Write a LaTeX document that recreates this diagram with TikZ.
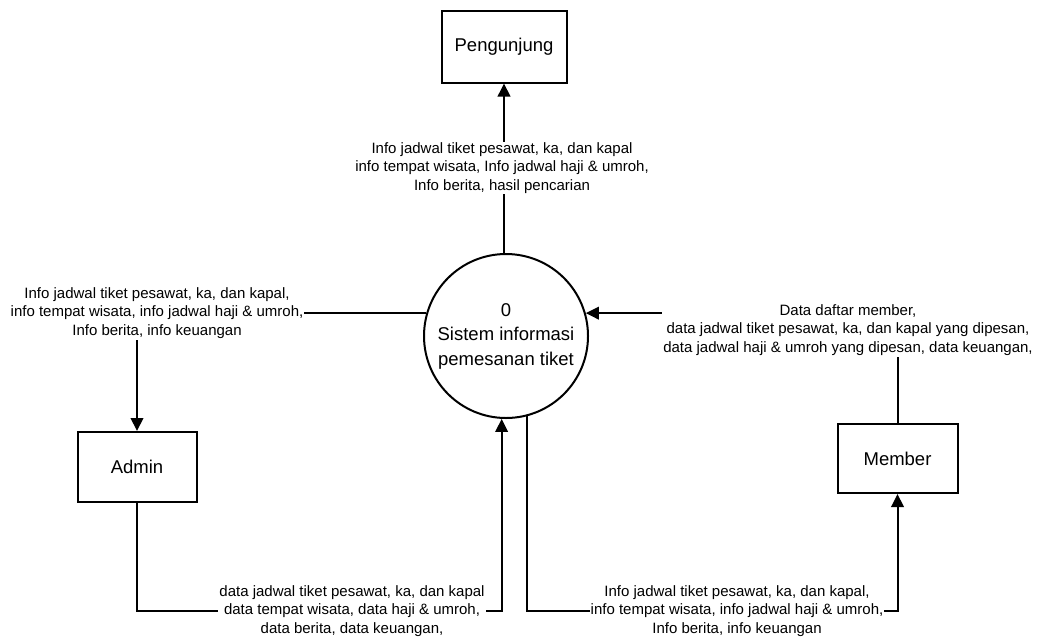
\documentclass[tikz,border=0pt]{standalone}
\usepackage{fontspec}
\setmainfont{Liberation Sans}
\usetikzlibrary{arrows.meta,calc}

\tikzset{
  entity/.style={draw, line width=2pt, fill=white, inner sep=0pt,
    font=\fontsize{18.5}{24}\selectfont},
  process/.style={draw, circle, line width=2pt, fill=white, inner sep=0pt,
    minimum size=164pt, align=center, font=\fontsize{18.5}{24.5}\selectfont},
  flow/.style={line width=2pt, -{Triangle[length=13pt,width=12.5pt]}},
  flowlabel/.style={fill=white, inner sep=1pt, align=center,
    font=\fontsize{15}{18.5}\selectfont}
}

\begin{document}
\begin{tikzpicture}[x=1pt,y=-1pt]
  \useasboundingbox (0,0) rectangle (1040,638);

  % external entities and the process
  \node[entity, minimum width=125pt, minimum height=72pt] (peng) at (504,46.5) {Pengunjung};
  \node[entity, minimum width=119pt, minimum height=70pt] (admin) at (137,467) {Admin};
  \node[entity, minimum width=120pt, minimum height=69pt] (member) at (897.5,458.5) {Member};
  \node[process] (sys) at (506,336) {0\\Sistem informasi\\pemesanan tiket};

  % row of the two lower data flows
  \coordinate (bus) at (0,611);

  % data flows
  \draw[flow] (sys.north -| peng.south) -- (peng.south);
  \draw[flow] (sys.164) -| (admin.north);
  \draw[flow] (admin.south) |- (sys.267 |- bus) -- (sys.267);
  \draw[flow] (sys.285) |- (member.south |- bus) -- (member.south);
  \draw[flow] (member.north) |- (sys.16);

  % flow labels
  \node[flowlabel] (lpeng) at (502,168) {Info jadwal tiket pesawat, ka, dan kapal\\info tempat wisata, Info jadwal haji \& umroh,\\Info berita, hasil pencarian};
  \node[flowlabel] (ladmin) at (157,313) {Info jadwal tiket pesawat, ka, dan kapal,\\info tempat wisata, info jadwal haji \& umroh,\\Info berita, info keuangan};
  \node[flowlabel] (ladmdata) at (352,611) {data jadwal tiket pesawat, ka, dan kapal\\data tempat wisata, data haji \& umroh,\\data berita, data keuangan,};
  \node[flowlabel] (lmember) at (737,611) {Info jadwal tiket pesawat, ka, dan kapal,\\info tempat wisata, info jadwal haji \& umroh,\\Info berita, info keuangan};
  \node[flowlabel] (lmemdata) at (848,330) {Data daftar member,\\data jadwal tiket pesawat, ka, dan kapal yang dipesan,\\data jadwal haji \& umroh yang dipesan, data keuangan,};
\end{tikzpicture}
\end{document}
